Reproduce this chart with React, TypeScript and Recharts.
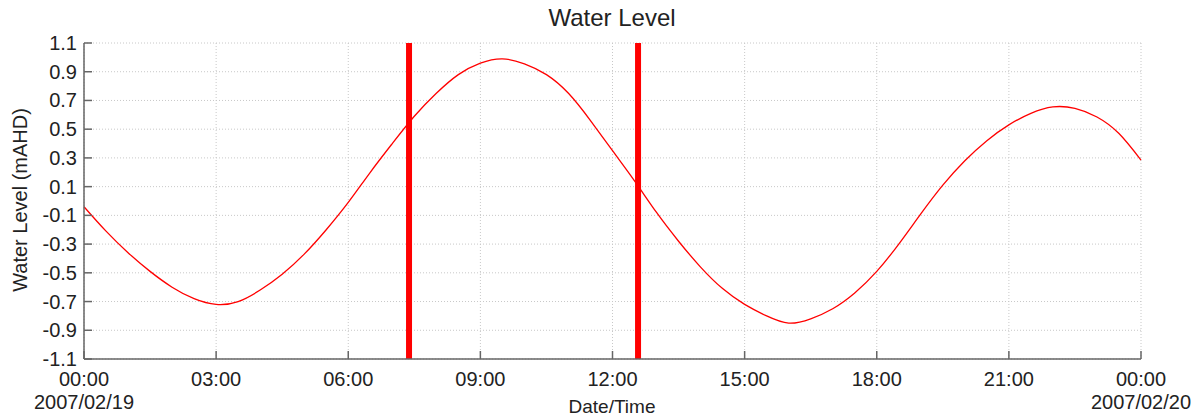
import React from 'react';
import {
  LineChart,
  Line,
  XAxis,
  YAxis,
  CartesianGrid,
  ReferenceLine,
} from 'recharts';

// hours since 2007/02/19 00:00, half-hourly
const hours = [
  0, 0.5, 1, 1.5, 2, 2.5, 3, 3.5, 4, 4.5, 5, 5.5, 6, 6.5, 7, 7.5, 8, 8.5, 9, 9.5,
  10, 10.5, 11, 11.5, 12, 12.5, 13, 13.5, 14, 14.5, 15, 15.5, 16, 16.5, 17, 17.5,
  18, 18.5, 19, 19.5, 20, 20.5, 21, 21.5, 22, 22.5, 23, 23.5, 24,
];
// water level (mAHD)
const levels = [
  -0.04, -0.21, -0.36, -0.49, -0.6, -0.68, -0.72, -0.7, -0.62, -0.51, -0.37, -0.2,
  -0.01, 0.2, 0.4, 0.59, 0.75, 0.88, 0.96, 0.99, 0.955, 0.88, 0.75, 0.56, 0.35, 0.14,
  -0.08, -0.28, -0.46, -0.61, -0.72, -0.8, -0.85, -0.82, -0.75, -0.64, -0.49, -0.3,
  -0.09, 0.11, 0.28, 0.42, 0.53, 0.61, 0.655, 0.645, 0.585, 0.47, 0.285,
];
// marker times (hours)
const markerHours = [7.38, 12.58];

const xTicks = [0, 3, 6, 9, 12, 15, 18, 21, 24];
const xTickLabels = ['00:00', '03:00', '06:00', '09:00', '12:00', '15:00', '18:00', '21:00', '00:00'];
const dateTicks = [0, 24];
const dateTickLabels = ['2007/02/19', '2007/02/20'];
const yTicks = [-1.1, -0.9, -0.7, -0.5, -0.3, -0.1, 0.1, 0.3, 0.5, 0.7, 0.9, 1.1];

const chartData = hours.map((h, i) => ({ h, level: levels[i] }));

const FONT = '"Liberation Sans", Arial, Helvetica, sans-serif';
const AXIS = '#666666';
const TICK_LEN = 8;

function BottomTick(props: any) {
  const { x, y, payload } = props;
  const i = xTicks.indexOf(payload.value);
  const d = dateTicks.indexOf(payload.value);
  return (
    <g>
      <line x1={x} y1={y} x2={x} y2={y - TICK_LEN} stroke={AXIS} strokeWidth={1.5} />
      <text x={x} y={y + 27} textAnchor="middle" fontSize={20} fill="#222" fontFamily={FONT}>
        {i >= 0 ? xTickLabels[i] : ''}
      </text>
      {d >= 0 && (
        <text x={x} y={y + 50} textAnchor="middle" fontSize={20} fill="#222" fontFamily={FONT}>
          {dateTickLabels[d]}
        </text>
      )}
    </g>
  );
}

function TopTick(props: any) {
  const { x, y } = props;
  return <line x1={x} y1={y} x2={x} y2={y + TICK_LEN} stroke={AXIS} strokeWidth={1.5} />;
}

function LeftTick(props: any) {
  const { x, y, payload } = props;
  return (
    <g>
      <line x1={x} y1={y} x2={x + TICK_LEN} y2={y} stroke={AXIS} strokeWidth={1.5} />
      <text x={x - 7} y={y + 7} textAnchor="end" fontSize={20} fill="#222" fontFamily={FONT}>
        {payload.value.toFixed(1)}
      </text>
    </g>
  );
}

function RightTick(props: any) {
  const { x, y } = props;
  return <line x1={x} y1={y} x2={x - TICK_LEN} y2={y} stroke={AXIS} strokeWidth={1.5} />;
}

const textBase: React.CSSProperties = {
  position: 'absolute',
  fontFamily: FONT,
  color: '#222',
  whiteSpace: 'nowrap',
  lineHeight: 1,
};

export default function App() {
  return (
    <div style={{ position: 'absolute', left: 0, top: 0, width: 1201, height: 419, background: '#fff' }}>
      <LineChart
        width={1201}
        height={419}
        data={chartData}
        margin={{ top: 43, right: 60, bottom: 10, left: 34 }}
      >
        <CartesianGrid stroke="#c8c8c8" strokeDasharray="1 2" />
        <XAxis
          dataKey="h"
          type="number"
          domain={[0, 24]}
          ticks={xTicks}
          interval={0}
          height={50}
          tickSize={0}
          tickMargin={0}
          tickLine={false}
          axisLine={{ stroke: AXIS, strokeWidth: 1.5 }}
          tick={<BottomTick />}
        />
        <XAxis
          xAxisId="top"
          orientation="top"
          dataKey="h"
          type="number"
          domain={[0, 24]}
          ticks={xTicks}
          interval={0}
          height={0}
          tickSize={0}
          tickMargin={0}
          tickLine={false}
          axisLine={{ stroke: AXIS, strokeWidth: 1.5 }}
          tick={<TopTick />}
        />
        <YAxis
          type="number"
          domain={[-1.1, 1.1]}
          ticks={yTicks}
          interval={0}
          width={50}
          tickSize={0}
          tickMargin={0}
          tickLine={false}
          axisLine={{ stroke: AXIS, strokeWidth: 1.5 }}
          tick={<LeftTick />}
        />
        <YAxis
          yAxisId="right"
          orientation="right"
          type="number"
          domain={[-1.1, 1.1]}
          ticks={yTicks}
          interval={0}
          width={0}
          tickSize={0}
          tickMargin={0}
          tickLine={false}
          axisLine={{ stroke: AXIS, strokeWidth: 1.5 }}
          tick={<RightTick />}
        />
        <Line
          type="natural"
          dataKey="level"
          stroke="#ff0000"
          strokeWidth={1.3}
          dot={false}
          activeDot={false}
          isAnimationActive={false}
        />
        {markerHours.map((m) => (
          <ReferenceLine key={m} x={m} stroke="#ff0000" strokeWidth={6} />
        ))}
      </LineChart>
      <div style={{ ...textBase, left: 612, top: 18, fontSize: 24, transform: 'translate(-50%, -50%)' }}>
        Water Level
      </div>
      <div style={{ ...textBase, left: 612, top: 406, fontSize: 19, transform: 'translate(-50%, -50%)' }}>
        Date/Time
      </div>
      <div
        style={{
          ...textBase,
          left: 20,
          top: 200,
          fontSize: 20,
          transform: 'translate(-50%, -50%) rotate(-90deg)',
        }}
      >
        Water Level (mAHD)
      </div>
    </div>
  );
}
